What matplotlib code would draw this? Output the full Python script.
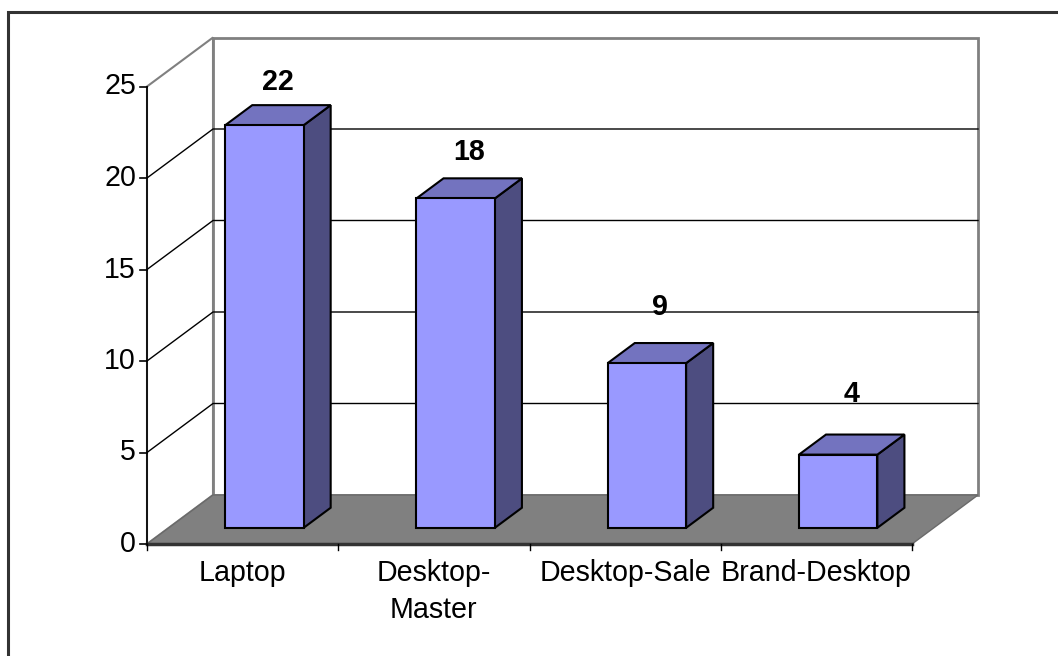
import matplotlib.pyplot as plt
from matplotlib.patches import Polygon

plt.rcParams['font.family'] = ['Liberation Sans', 'DejaVu Sans']

categories = ['Laptop', 'Desktop-\nMaster', 'Desktop-Sale', 'Brand-Desktop']
values = [22, 18, 9, 4]
yticks = [0, 5, 10, 15, 20, 25]

# -- 3D look: front plane origin, unit sizes and depth offset (canvas pixels)
X0, Y0 = 147, 544
UNIT = 18.3
SLOT = (912 - 147) / 4
DEPTH = (66, -49)
BAR_W = 0.41
BAR_D = (0.33, 0.74)
FS = 20.6


def proj(s, v, d):
    """ Slot position s, value v, depth d (0 front .. 1 back) -> canvas xy. """
    return (X0 + s * SLOT + d * DEPTH[0], Y0 - v * UNIT + d * DEPTH[1])


fig = plt.figure(figsize=(10.58, 6.56), dpi=100)
ax = fig.add_axes([0, 0, 1, 1])
ax.set_xlim(0, 1058)
ax.set_ylim(656, 0)
ax.axis('off')

n = len(categories)
vmax = yticks[-1]

# -- Walls and floor
back = [proj(0, 0, 1), proj(n, 0, 1), proj(n, vmax, 1), proj(0, vmax, 1)]
ax.add_patch(Polygon(back, closed=True, fc='white', ec='#808080', lw=2, zorder=1))
side = [proj(0, 0, 0), proj(0, 0, 1), proj(0, vmax, 1), proj(0, vmax, 0)]
ax.add_patch(Polygon(side, closed=True, fc='white', ec='#808080', lw=1.5, zorder=1))

for v in yticks[1:-1]:
    xs, ys = zip(proj(0, v, 0), proj(0, v, 1), proj(n, v, 1))
    ax.plot(xs, ys, color='black', lw=1, zorder=2)

floor = [proj(0, 0, 0), proj(n, 0, 0), proj(n, 0, 1), proj(0, 0, 1)]
ax.add_patch(Polygon(floor, closed=True, fc='#808080', ec='#6a6a6a', lw=1, zorder=3))

# -- Axes lines, ticks and labels
xs, ys = zip(proj(0, 0, 0), proj(0, vmax, 0))
ax.plot(xs, ys, color='black', lw=1.2, zorder=4)
xs, ys = zip(proj(0, 0, 0), proj(n, 0, 0))
ax.plot(xs, ys, color='#333333', lw=2.5, zorder=4)

for v in yticks:
    x, y = proj(0, v, 0)
    ax.plot([x - 7, x], [y, y], color='black', lw=1.2, zorder=4)
    ax.text(x - 11, y, str(v), ha='right', va='center', fontsize=FS, zorder=5)

for i in range(n + 1):
    x, y = proj(i, 0, 0)
    ax.plot([x, x], [y, y + 6], color='black', lw=1, zorder=4)

for i, cat in enumerate(categories):
    x, y = proj(i + 0.5, 0, 0)
    ax.text(x, y + 15, cat, ha='center', va='top', fontsize=FS,
            linespacing=1.4, zorder=5)

# -- Bars
d0, d1 = BAR_D
for i, v in enumerate(values):
    l, r = i + 0.5 - BAR_W / 2, i + 0.5 + BAR_W / 2
    front = [proj(l, 0, d0), proj(r, 0, d0), proj(r, v, d0), proj(l, v, d0)]
    top = [proj(l, v, d0), proj(r, v, d0), proj(r, v, d1), proj(l, v, d1)]
    right = [proj(r, 0, d0), proj(r, 0, d1), proj(r, v, d1), proj(r, v, d0)]
    for pts, fc in [(right, '#4d4d80'), (top, '#7373bf'), (front, '#9999ff')]:
        ax.add_patch(Polygon(pts, closed=True, fc=fc, ec='black', lw=1.5,
                             joinstyle='miter', zorder=6))
    x, y = proj(i + 0.5, 0.945 * v + 3.0, (d0 + d1) / 2)
    ax.text(x, y, str(v), ha='center', va='center', fontsize=FS,
            fontweight='bold', zorder=7)

# -- Chart area border (left and top)
ax.plot([8, 8, 1058], [656, 12, 12], color='#333333', lw=2.2, zorder=8,
        solid_joinstyle='miter')

fig.savefig('out.png', dpi=100)
